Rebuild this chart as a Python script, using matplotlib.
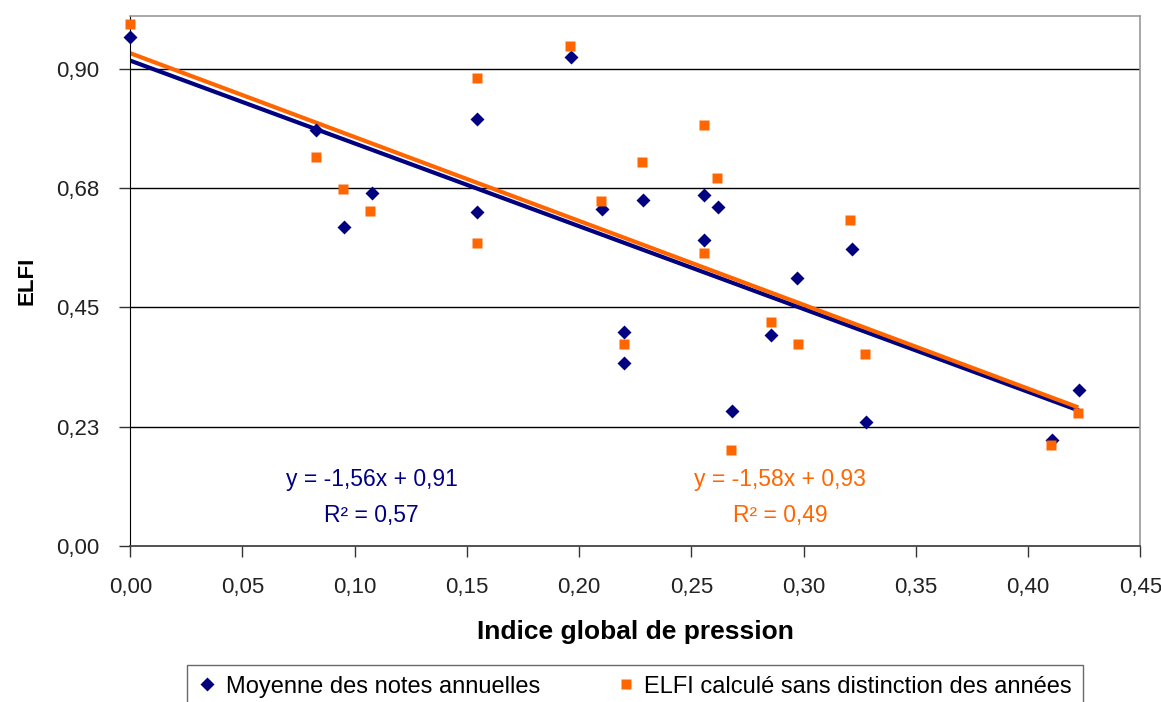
import numpy as np
import matplotlib
matplotlib.use('Agg')
import matplotlib.pyplot as plt
from matplotlib.lines import Line2D

plt.rcParams['font.family'] = ['Liberation Sans', 'DejaVu Sans']

# series 1 : moyenne des notes annuelles (diamonds)
x_moy = [0.0, 0.0827, 0.0952, 0.1075, 0.1546, 0.1546, 0.1964, 0.2102, 0.2201, 0.2201,
         0.2284, 0.2557, 0.2557, 0.2620, 0.2680, 0.2855, 0.2969, 0.3214, 0.3277, 0.4105, 0.4227]
y_moy = [0.960, 0.784, 0.601, 0.666, 0.805, 0.630, 0.922, 0.636, 0.403, 0.345,
         0.653, 0.662, 0.577, 0.640, 0.255, 0.398, 0.506, 0.560, 0.234, 0.201, 0.294]

# series 2 : ELFI calcule sans distinction des annees (squares)
x_elfi = [0.0, 0.0826, 0.0949, 0.1069, 0.1543, 0.1543, 0.1961, 0.2097, 0.2198, 0.2281,
          0.2555, 0.2555, 0.2615, 0.2676, 0.2853, 0.2975, 0.3207, 0.3272, 0.4101, 0.4224]
y_elfi = [0.984, 0.734, 0.673, 0.632, 0.883, 0.572, 0.942, 0.650, 0.381, 0.724,
          0.794, 0.552, 0.693, 0.182, 0.423, 0.381, 0.614, 0.362, 0.191, 0.251]

# trend lines as printed on the chart (slope, intercept)
trend_moy = (-1.56, 0.915)
trend_elfi = (-1.58, 0.929)
eq_moy = ['y = -1,56x + 0,91', 'R² = 0,57']
eq_elfi = ['y = -1,58x + 0,93', 'R² = 0,49']

x_ticks = [0.0, 0.05, 0.10, 0.15, 0.20, 0.25, 0.30, 0.35, 0.40, 0.45]
x_ticklabels = ['0,00', '0,05', '0,10', '0,15', '0,20', '0,25', '0,30', '0,35', '0,40', '0,45']
y_ticks = [0.0, 0.225, 0.45, 0.675, 0.90]
y_ticklabels = ['0,00', '0,23', '0,45', '0,68', '0,90']

navy = '#000080'
orange = '#FF6600'

fig = plt.figure(figsize=(11.61, 7.02), dpi=100)
ax = fig.add_axes([0.1122, 0.2218, 0.870, 0.7561])

# grid
for yt in y_ticks[1:]:
    ax.axhline(yt, color='black', lw=1.0, zorder=1)

# trend lines
xm = np.array([0, max(x_moy)])
xe = np.array([0, max(x_elfi)])
ax.plot(xm, trend_moy[0] * xm + trend_moy[1], color=navy, lw=3, zorder=2, solid_capstyle='butt')
ax.plot(xe, trend_elfi[0] * xe + trend_elfi[1], color=orange, lw=3, zorder=2, solid_capstyle='butt')

# points
ax.plot(x_moy, y_moy, 'D', color=navy, ms=7, mec='none', zorder=3, clip_on=False)
ax.plot(x_elfi, y_elfi, 's', color=orange, ms=7.5, mec='none', zorder=4, clip_on=False)

ax.set_xlim(0, 0.45)
ax.set_ylim(0, 1.0)
ax.set_xticks(x_ticks)
ax.set_xticklabels(x_ticklabels, fontsize=16, color='#222222')
ax.set_yticks(y_ticks)
ax.set_yticklabels(y_ticklabels, fontsize=16, color='#222222')
ax.tick_params(axis='both', direction='out', length=8, width=1, color='#333333')
ax.tick_params(axis='x', pad=14)
ax.tick_params(axis='y', pad=14)

for side in ['top', 'right']:
    ax.spines[side].set_color('#999999')
    ax.spines[side].set_linewidth(1.2)
ax.spines['left'].set_color('black')
ax.spines['bottom'].set_color('#444444')
ax.spines['bottom'].set_linewidth(1.3)

ax.set_xlabel('Indice global de pression', fontsize=19, fontweight='bold', labelpad=16)
ax.set_ylabel('ELFI', fontsize=16, fontweight='bold', labelpad=14)

# equations
ax.text(0.1075, 0.125, eq_moy[0], color=navy, fontsize=16.5, ha='center', va='center')
ax.text(0.1075, 0.058, eq_moy[1], color=navy, fontsize=16.5, ha='center', va='center')
ax.text(0.2895, 0.125, eq_elfi[0], color=orange, fontsize=16.5, ha='center', va='center')
ax.text(0.2895, 0.058, eq_elfi[1], color=orange, fontsize=16.5, ha='center', va='center')

handles = [Line2D([], [], marker='D', ls='none', color=navy, ms=7, mec='none'),
           Line2D([], [], marker='s', ls='none', color=orange, ms=7.5, mec='none')]
labels = ['Moyenne des notes annuelles', 'ELFI calculé sans distinction des années']
leg = fig.legend(handles, labels, loc='upper center', bbox_to_anchor=(0.547, 0.0527),
                 borderaxespad=0, ncol=2, fontsize=17, frameon=True, fancybox=False,
                 edgecolor='#444444', handlelength=0.8, handletextpad=0.4,
                 columnspacing=3.2, borderpad=0.45)
leg.get_frame().set_linewidth(1.0)

fig.savefig('out.png', dpi=100)
